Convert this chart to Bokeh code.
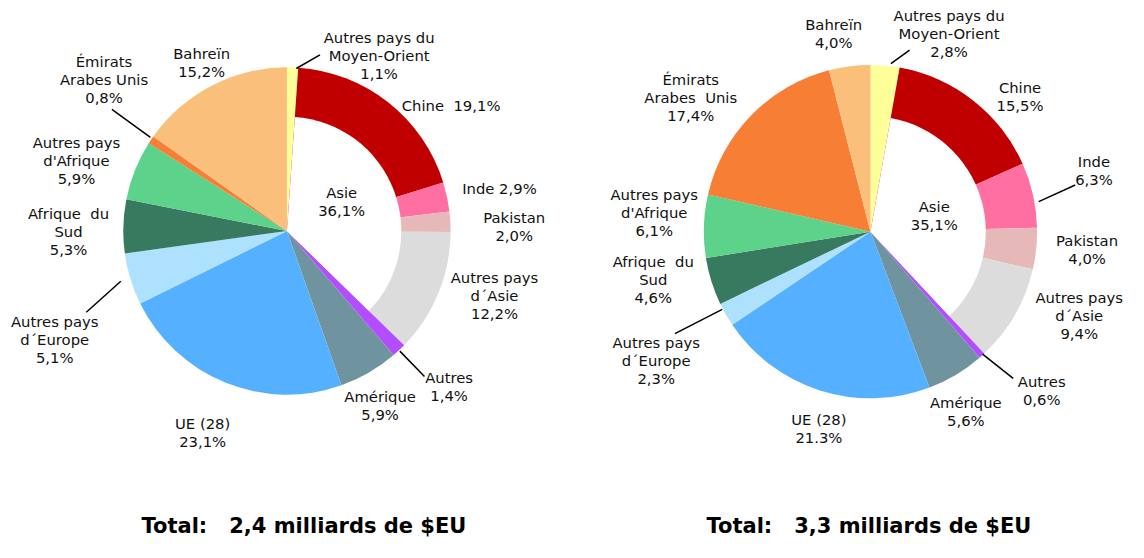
import math
from bokeh.plotting import figure
from bokeh.models import Range1d
from bokeh.embed import file_html
from bokeh.resources import INLINE
from bokeh.core.properties import value

# ---------------- data ----------------
categories = ["Autres pays du Moyen-Orient", "Chine", "Inde", "Pakistan",
              "Autres pays d´Asie", "Autres", "Amérique", "UE (28)",
              "Autres pays d´Europe", "Afrique du Sud", "Autres pays d'Afrique",
              "Émirats Arabes Unis", "Bahreïn"]
is_asia = [False, True, True, True, True, False, False, False, False, False, False, False, False]
colors = ["#FFFF99", "#C00000", "#FF6FA2", "#E6B9B8", "#DCDCDC", "#B44CFF", "#6F939F",
          "#55B0FF", "#ADE1FE", "#387A60", "#5CD28A", "#F67E35", "#F9BF7B"]

left_values = [1.1, 19.1, 2.9, 2.0, 12.2, 1.4, 5.9, 23.1, 5.1, 5.3, 5.9, 0.8, 15.2]
right_values = [2.8, 15.5, 6.3, 4.0, 9.4, 0.6, 5.6, 21.3, 2.3, 4.6, 6.1, 17.4, 4.0]
left_pct = ["1,1%", "19,1%", "2,9%", "2,0%", "12,2%", "1,4%", "5,9%", "23,1%", "5,1%",
            "5,3%", "5,9%", "0,8%", "15,2%"]
right_pct = ["2,8%", "15,5%", "6,3%", "4,0%", "9,4%", "0,6%", "5,6%", "21.3%", "2,3%",
             "4,6%", "6,1%", "17,4%", "4,0%"]
asia_pct = ["36,1%", "35,1%"]
totals = ["2,4", "3,3"]

NB = "\u00a0"
left_label_lines = [["Autres pays du", "Moyen-Orient"], ["Chine" + NB + " "], ["Inde "], ["Pakistan"],
                    ["Autres pays", "d´Asie"], ["Autres"], ["Amérique"], ["UE (28)"],
                    ["Autres pays", "d´Europe"], ["Afrique" + NB + " du", "Sud"], ["Autres pays", "d'Afrique"],
                    ["Émirats", "Arabes Unis"], ["Bahreïn"]]
right_label_lines = [["Autres pays du", "Moyen-Orient"], ["Chine"], ["Inde"], ["Pakistan"],
                     ["Autres pays", "d´Asie"], ["Autres"], ["Amérique"], ["UE (28)"],
                     ["Autres pays", "d´Europe"], ["Afrique" + NB + " du", "Sud"], ["Autres pays", "d'Afrique"],
                     ["Émirats", "Arabes" + NB + " Unis"], ["Bahreïn"]]
# percent joins the last line when the label is a single inline line
left_inline = [False, True, True, False, False, False, False, False, False, False, False, False, False]
right_inline = [False] * 13

# ---------------- layout (reference pixels, 1144 x 558) ----------------
W, H = 1128, 542
REF_W, REF_H = 1144, 558

def Y(py):
    return REF_H - py

pies = [
    dict(values=left_values, pct=left_pct, lines=left_label_lines, inline=left_inline,
         cx=290.5, cy=237.3, r=166, r_in=116, asia=(346, 198),
         pos=[(384, 38), (457, 108), (506, 194), (521, 223), (501, 285), (455, 388),
              (385, 408), (205, 435), (55, 330), (69, 219), (77, 146), (105, 63), (204, 55)],
         leaders=[((300, 70), (324, 56)), ((405, 361), (430, 387)), ((122, 289), (87, 321)),
                  ((152, 141), (113, 112))],
         title=(143, 541)),
    dict(values=right_values, pct=right_pct, lines=right_label_lines, inline=right_inline,
         cx=882.3, cy=238, r=169, r_in=117, asia=(947, 212),
         pos=[(962, 15), (1034, 90), (1109, 166), (1102, 247), (1094, 306), (1056, 392),
              (979, 414), (830, 431), (665, 352), (662, 269), (663, 200), (700, 81), (845, 25)],
         leaders=[((903, 65), (922, 51)), ((1053, 207), (1090, 190)),
                  ((996, 364), (1027, 389)), ((732, 318), (684, 343))],
         title=(716, 541)),
]
LINE_STEP = 18.6
FONT = value("DejaVu Sans")

p = figure(width=W, height=H, x_range=Range1d(0, REF_W), y_range=Range1d(0, REF_H),
           output_backend="svg", toolbar_location=None, x_axis_type=None, y_axis_type=None,
           min_border=0, outline_line_color=None, background_fill_color="white")
p.grid.visible = False

for k, pie in enumerate(pies):
    vals = pie["values"]
    tot = sum(vals)
    cum = [0.0]
    for v in vals:
        cum.append(cum[-1] + v)
    starts = [math.pi / 2 - 2 * math.pi * c / tot for c in cum[:-1]]
    ends = [math.pi / 2 - 2 * math.pi * c / tot for c in cum[1:]]
    p.wedge(x=[pie["cx"]] * len(vals), y=[Y(pie["cy"])] * len(vals), radius=pie["r"],
            start_angle=starts, end_angle=ends, direction="clock",
            fill_color=colors, line_color=None)
    ai = [i for i, a in enumerate(is_asia) if a]
    p.wedge(x=pie["cx"], y=Y(pie["cy"]), radius=pie["r_in"],
            start_angle=starts[ai[0]], end_angle=ends[ai[-1]], direction="clock",
            fill_color="white", line_color=None)

    xs, ys, ts = [], [], []
    for i, lines in enumerate(pie["lines"]):
        px, py = pie["pos"][i]
        if pie["inline"][i]:
            all_lines = lines[:-1] + [lines[-1] + pie["pct"][i]]
        else:
            all_lines = lines + [pie["pct"][i]]
        for j, t in enumerate(all_lines):
            xs.append(px)
            ys.append(Y(py + j * LINE_STEP))
            ts.append(t)
    ax, ay = pie["asia"]
    for j, t in enumerate(["Asie", asia_pct[k]]):
        xs.append(ax)
        ys.append(Y(ay + j * LINE_STEP))
        ts.append(t)
    p.text(x=xs, y=ys, text=ts, text_font=FONT, text_font_size="14.8px",
           text_align="center", text_baseline="middle", text_color="#111111")

    for (a, b) in pie["leaders"]:
        p.segment(x0=a[0], y0=Y(a[1]), x1=b[0], y1=Y(b[1]), line_color="black", line_width=1.5)

    tx, ty = pie["title"]
    p.text(x=[tx], y=[Y(ty)], text=["Total:" + NB + NB + " " + totals[k] + " milliards de $EU"],
           text_font=FONT, text_font_size="21px", text_font_style="bold",
           text_align="left", text_baseline="alphabetic", text_color="black")

open("out.html", "w").write(file_html(p, INLINE))
